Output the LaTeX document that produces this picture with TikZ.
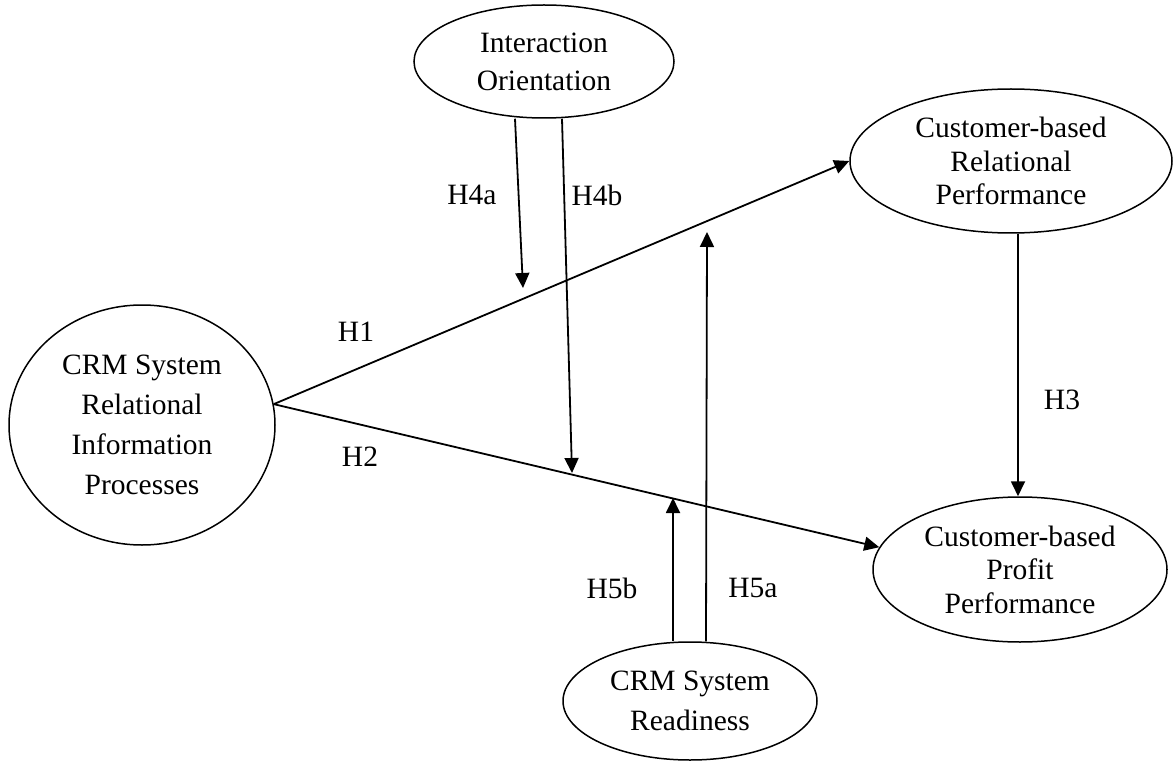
\documentclass[tikz,border=0pt]{standalone}
\usepackage{fontspec}
\setmainfont{Liberation Serif}
\usetikzlibrary{shapes.geometric,arrows.meta}
\begin{document}
\begin{tikzpicture}[x=1pt,y=-1pt,
  ell/.style={ellipse,draw,line width=1.5pt,inner sep=0pt,align=center},
  arr/.style={line width=1.8pt,-{Triangle[length=15pt,width=14pt]}},
  lab/.style={inner sep=0pt,font=\fontsize{29.5}{33.5}\selectfont}]
\useasboundingbox (0,0) rectangle (1173,762);
% nodes
\node[ell,minimum width=260pt,minimum height=113pt,font=\fontsize{29.5}{38}\selectfont] (io) at (544,61.5) {Interaction\\Orientation};
\node[ell,minimum width=266pt,minimum height=240pt,font=\fontsize{29.5}{40}\selectfont] (crm) at (142,425) {CRM System\\Relational\\Information\\Processes};
\node[ell,minimum width=322pt,minimum height=144pt,font=\fontsize{29.5}{33.5}\selectfont] (crp) at (1011,161) {Customer-based\\Relational\\Performance};
\node[ell,minimum width=294pt,minimum height=145pt,font=\fontsize{29.5}{33.5}\selectfont] (cpp) at (1020,569.5) {Customer-based\\Profit\\Performance};
\node[ell,minimum width=254pt,minimum height=118pt,font=\fontsize{29.5}{40}\selectfont] (rd) at (690,701) {CRM System\\Readiness};
% moderation targets
\coordinate (m4a) at (523,288);
\coordinate (m4b) at (572,473);
\coordinate (m5b) at (673,498);
\coordinate (m5a) at (707,232);
% arrows
\draw[arr] (crm.9.5) -- (crp.west);
\draw[arr] (crm.9.5) -- (cpp.171);
\draw[arr] ([xshift=7pt]crp.south) -- ([xshift=-2pt]cpp.north);
\draw[arr] ([xshift=-29pt]io.south) -- (m4a);
\draw[arr] ([xshift=18pt]io.south) -- (m4b);
\draw[arr] ([xshift=-17pt]rd.north) -- (m5b);
\draw[arr] ([xshift=16pt]rd.north) -- (m5a);
% labels
\node[lab] (l1) at (356,332) {H1};
\node[lab] (l2) at (360,457) {H2};
\node[lab] (l3) at (1062,400) {H3};
\node[lab] (l4a) at (472,195) {H4a};
\node[lab] (l4b) at (597,195) {H4b};
\node[lab] (l5b) at (612,588) {H5b};
\node[lab] (l5a) at (753,588) {H5a};
\end{tikzpicture}
\end{document}
